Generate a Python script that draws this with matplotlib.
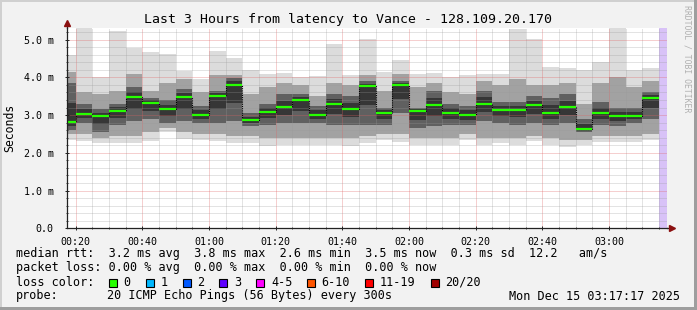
import matplotlib
matplotlib.use('Agg')
import matplotlib.pyplot as plt
from matplotlib.ticker import MultipleLocator, FuncFormatter
from matplotlib.patches import Rectangle

# step start times (5 minute steps) and smoke quantiles in ms
step_start = ['00:15', '00:20', '00:25', '00:30', '00:35', '00:40', '00:45', '00:50', '00:55',
              '01:00', '01:05', '01:10', '01:15', '01:20', '01:25', '01:30', '01:35', '01:40',
              '01:45', '01:50', '01:55', '02:00', '02:05', '02:10', '02:15', '02:20', '02:25',
              '02:30', '02:35', '02:40', '02:45', '02:50', '02:55', '03:00', '03:05', '03:10']
rtt_min = [2.34, 2.30, 2.25, 2.25, 2.27, 2.32, 2.54, 2.36, 2.35, 2.30, 2.25, 2.27, 2.19, 2.21, 2.21, 2.21, 2.22, 2.19,
           2.25, 2.33, 2.29, 2.21, 2.22, 2.21, 2.34, 2.21, 2.25, 2.22, 2.32, 2.22, 2.16, 2.20, 2.28, 2.28, 2.28, 2.33]
rtt_p10 = [2.49, 2.50, 2.40, 2.45, 2.45, 2.55, 2.65, 2.55, 2.50, 2.50, 2.45, 2.45, 2.40, 2.40, 2.40, 2.40, 2.40, 2.40,
           2.45, 2.50, 2.50, 2.40, 2.40, 2.40, 2.50, 2.40, 2.40, 2.40, 2.45, 2.40, 2.35, 2.35, 2.45, 2.45, 2.45, 2.50]
rtt_p25 = [2.60, 2.80, 2.55, 2.75, 2.85, 2.90, 2.80, 2.85, 2.80, 2.80, 2.85, 2.70, 2.75, 2.80, 2.80, 2.80, 2.75, 2.75,
           2.75, 2.75, 3.05, 2.65, 2.70, 2.75, 2.75, 2.85, 2.80, 2.75, 2.80, 2.75, 2.80, 2.55, 2.75, 2.70, 2.80, 2.90]
rtt_median = [2.82, 3.03, 2.98, 3.11, 3.49, 3.33, 3.15, 3.49, 3.00, 3.50, 3.80, 2.87, 3.07, 3.22, 3.40, 3.00, 3.30, 3.16,
              3.77, 3.06, 3.79, 3.11, 3.27, 3.05, 3.00, 3.30, 3.14, 3.14, 3.27, 3.06, 3.22, 2.63, 3.05, 2.98, 2.98, 3.46]
rtt_p75 = [3.84, 3.30, 3.15, 3.30, 3.75, 3.45, 3.40, 3.70, 3.25, 3.65, 3.98, 3.05, 3.30, 3.55, 3.55, 3.25, 3.55, 3.50,
           3.90, 3.20, 3.90, 3.20, 3.65, 3.30, 3.25, 3.65, 3.35, 3.35, 3.50, 3.45, 3.55, 2.90, 3.35, 3.20, 3.20, 3.60]
rtt_p90 = [4.15, 3.60, 3.55, 3.65, 4.10, 3.65, 3.85, 3.95, 3.60, 4.05, 4.05, 3.55, 3.75, 3.85, 3.80, 3.50, 3.85, 3.80,
           4.05, 3.65, 4.10, 3.75, 3.85, 3.60, 3.55, 3.90, 3.80, 3.95, 3.80, 3.80, 3.85, 3.30, 3.85, 4.00, 3.75, 3.90]
rtt_max = [4.59, 5.31, 4.01, 5.23, 4.78, 4.68, 4.61, 4.17, 3.95, 4.70, 4.52, 4.19, 4.08, 4.12, 4.02, 4.04, 4.88, 4.06,
           5.01, 4.15, 4.46, 4.10, 4.12, 4.02, 4.06, 4.10, 4.10, 5.28, 5.01, 4.28, 4.25, 4.19, 4.40, 5.30, 4.19, 4.24]

loss_labels = ['0', '1', '2', '3', '4-5', '6-10', '11-19', '20/20']
loss_colors = ['#26ff00', '#00b8ff', '#0059ff', '#5e00ff', '#ff00ff', '#ff5500', '#ff0000', '#a10000']

t_begin = '00:17:17'
t_end = '03:17:17'
step = 5


def to_min(s):
    parts = [int(p) for p in s.split(':')]
    m = parts[0] * 60 + parts[1]
    if len(parts) > 2:
        m += parts[2] / 60
    return m


W, H = 697, 310
mono = 'DejaVu Sans Mono'
fig = plt.figure(figsize=(W / 100, H / 100), dpi=100, facecolor='#f2f2f2')


def px(x, y):
    return x / W, 1 - y / H


x0, x1 = 66.7, 666.7
y_top, y_bot = 27.7, 228.3
ax = fig.add_axes([x0 / W, 1 - y_bot / H, (x1 - x0) / W, (y_bot - y_top) / H])
ax.set_facecolor('white')

starts = [to_min(s) for s in step_start]
xmin, xmax = to_min(t_begin), to_min(t_end)
ymax = 5.315

lo_core = [(a + b) / 2 for a, b in zip(rtt_p25, rtt_median)]
hi_core = [(a + b) / 2 for a, b in zip(rtt_median, rtt_p75)]
bands = [(rtt_min, rtt_max, '#dcdcdc'),
         (rtt_p10, rtt_p90, '#a2a2a2'),
         (rtt_p25, rtt_p75, '#606060'),
         (lo_core, hi_core, '#363636')]
for lo, hi, c in bands:
    ax.bar(starts, [h - l for l, h in zip(lo, hi)], bottom=lo, width=step, align='edge',
           color=c, linewidth=0, zorder=1)

# unknown / now marker
ax.axvspan(starts[-1] + step, xmax, color='#d8c2f7', linewidth=0, zorder=1)

# median: dotted black step connectors + green segments
ax.step(starts + [starts[-1] + step], rtt_median + [rtt_median[-1]], where='post',
        color='black', lw=0.8, ls=(0, (1, 1)), zorder=3)
ax.hlines(rtt_median, starts, [s + step for s in starts], color=loss_colors[0], lw=1.6, zorder=4)

ax.set_xlim(xmin, xmax)
ax.set_ylim(0, ymax)
ax.xaxis.set_major_locator(MultipleLocator(20))
ax.xaxis.set_minor_locator(MultipleLocator(5))
ax.yaxis.set_major_locator(MultipleLocator(1))
ax.yaxis.set_minor_locator(MultipleLocator(0.2))
ax.xaxis.set_major_formatter(FuncFormatter(lambda m, p: f'{int(m // 60):02d}:{int(round(m % 60)):02d}'))
ax.yaxis.set_major_formatter(FuncFormatter(lambda v, p: '0.0' if v == 0 else f'{v:.1f} m'))

ax.set_axisbelow(False)
ax.grid(which='minor', color='#9a9a9a', alpha=0.55, lw=0.72, ls=(0, (1, 1)))
ax.grid(which='major', color='#e06060', alpha=0.6, lw=0.72, ls=(0, (1, 1)))

for sp in ['top', 'right']:
    ax.spines[sp].set_visible(False)
for sp in ['left', 'bottom']:
    ax.spines[sp].set_color('#222222')
    ax.spines[sp].set_linewidth(0.9)
    ax.spines[sp].set_zorder(5)

ax.tick_params(which='major', length=3, width=0.7, color='#222222', direction='inout',
               labelsize=7.2, pad=5)
ax.tick_params(which='minor', length=2, width=0.7, color='#444444', direction='inout')
ax.tick_params(axis='y', pad=8)
for lab in ax.get_xticklabels() + ax.get_yticklabels():
    lab.set_fontfamily(mono)

# axis arrows
arrow_y = ymax + 4.5 / 37.75
arrow_x = xmax + 5 / 3.333
ax.plot([xmin, xmin], [ymax, arrow_y], color='#222222', lw=0.9, clip_on=False, zorder=5)
ax.plot([xmax, arrow_x], [0, 0], color='#222222', lw=0.9, clip_on=False, zorder=5)
ax.plot([xmin], [arrow_y], marker='^', ms=5, color='#8b1010', clip_on=False, zorder=6)
ax.plot([arrow_x], [0], marker='>', ms=5, color='#8b1010', clip_on=False, zorder=6)

fig.text(*px(348, 19), 'Last 3 Hours from latency to Vance - 128.109.20.170',
         ha='center', va='center', fontsize=9.5, family=mono)
fig.text(*px(10, 127.5), 'Seconds', rotation=90, ha='center', va='center', fontsize=8.3, family=mono)
fig.text(*px(687, 59), 'RRDTOOL / TOBI OETIKER', rotation=270, ha='center', va='center',
         fontsize=5.9, family=mono, color='#b0b0b0')

fs = 8.5
fig.text(*px(16, 254), 'median rtt:  3.2 ms avg  3.8 ms max  2.6 ms min  3.5 ms now  0.3 ms sd  12.2   am/s',
         ha='left', va='center', fontsize=fs, family=mono)
fig.text(*px(16, 268), 'packet loss: 0.00 % avg  0.00 % max  0.00 % min  0.00 % now',
         ha='left', va='center', fontsize=fs, family=mono)
fig.text(*px(16, 282), 'loss color:', ha='left', va='center', fontsize=fs, family=mono)
box_x = [108.7, 145.7, 182.7, 219.3, 256.3, 307, 365, 430.7]
for bx, lab, col in zip(box_x, loss_labels, loss_colors):
    fig.patches.append(Rectangle(px(bx, 286.5), 8 / W, 8 / H, transform=fig.transFigure,
                                 facecolor=col, edgecolor='black', lw=0.8))
    fig.text(*px(bx + 14.6, 282), lab, ha='left', va='center', fontsize=fs, family=mono)
fig.text(*px(16, 296), 'probe:', ha='left', va='center', fontsize=fs, family=mono)
fig.text(*px(107, 296), '20 ICMP Echo Pings (56 Bytes) every 300s', ha='left', va='center',
         fontsize=fs, family=mono)
fig.text(*px(680, 296), 'Mon Dec 15 03:17:17 2025', ha='right', va='center', fontsize=fs, family=mono)

# 3d-style frame
fig.patches.append(Rectangle((0, 1 - 2 / H), 1, 2 / H, transform=fig.transFigure, color='#d0d0d0', lw=0))
fig.patches.append(Rectangle((0, 0), 2 / W, 1, transform=fig.transFigure, color='#d0d0d0', lw=0))
fig.patches.append(Rectangle((0, 0), 1, 3 / H, transform=fig.transFigure, color='#9e9e9e', lw=0))
fig.patches.append(Rectangle((1 - 3 / W, 0), 3 / W, 1, transform=fig.transFigure, color='#9e9e9e', lw=0))

fig.savefig('out.png', dpi=100, facecolor=fig.get_facecolor())
